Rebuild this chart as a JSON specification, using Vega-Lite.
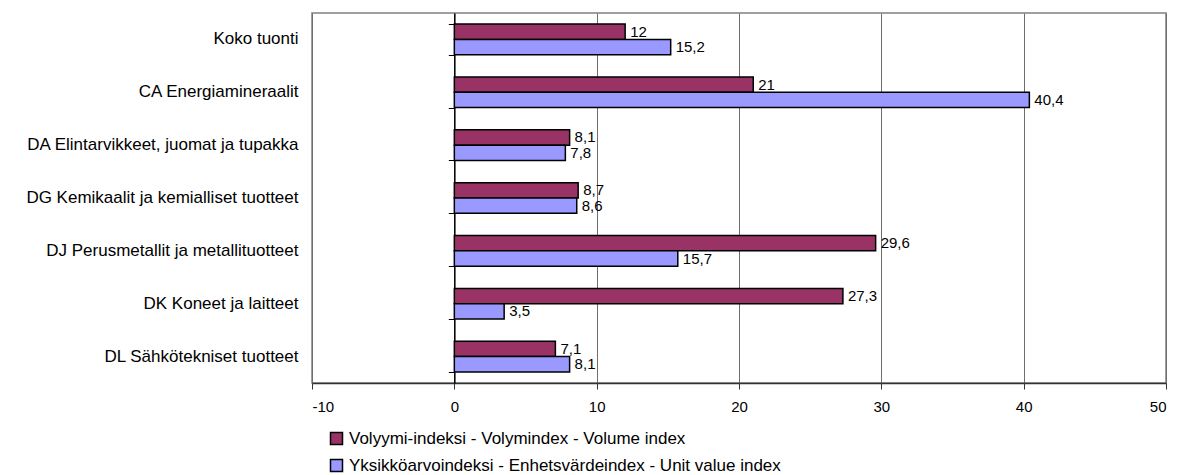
{
  "$schema": "https://vega.github.io/schema/vega-lite/v6.json",
  "width": 854,
  "height": 370,
  "autosize": "none",
  "padding": {"left": 312, "top": 13, "right": 12, "bottom": 92},
  "config": {
    "font": "Liberation Sans",
    "view": {"stroke": "#808080", "strokeWidth": 1.5},
    "locale": {"number": {"decimal": ",", "thousands": " ", "grouping": [3], "currency": ["", " €"], "minus": "-"}}
  },
  "data": {
    "values": [
      {"category": "Koko tuonti", "series": "Volyymi-indeksi - Volymindex - Volume index", "value": 12},
      {"category": "Koko tuonti", "series": "Yksikköarvoindeksi - Enhetsvärdeindex - Unit value index", "value": 15.2},
      {"category": "CA Energiamineraalit", "series": "Volyymi-indeksi - Volymindex - Volume index", "value": 21},
      {"category": "CA Energiamineraalit", "series": "Yksikköarvoindeksi - Enhetsvärdeindex - Unit value index", "value": 40.4},
      {"category": "DA Elintarvikkeet, juomat ja tupakka", "series": "Volyymi-indeksi - Volymindex - Volume index", "value": 8.1},
      {"category": "DA Elintarvikkeet, juomat ja tupakka", "series": "Yksikköarvoindeksi - Enhetsvärdeindex - Unit value index", "value": 7.8},
      {"category": "DG Kemikaalit ja kemialliset tuotteet", "series": "Volyymi-indeksi - Volymindex - Volume index", "value": 8.7},
      {"category": "DG Kemikaalit ja kemialliset tuotteet", "series": "Yksikköarvoindeksi - Enhetsvärdeindex - Unit value index", "value": 8.6},
      {"category": "DJ Perusmetallit ja metallituotteet", "series": "Volyymi-indeksi - Volymindex - Volume index", "value": 29.6},
      {"category": "DJ Perusmetallit ja metallituotteet", "series": "Yksikköarvoindeksi - Enhetsvärdeindex - Unit value index", "value": 15.7},
      {"category": "DK Koneet ja laitteet", "series": "Volyymi-indeksi - Volymindex - Volume index", "value": 27.3},
      {"category": "DK Koneet ja laitteet", "series": "Yksikköarvoindeksi - Enhetsvärdeindex - Unit value index", "value": 3.5},
      {"category": "DL Sähkötekniset tuotteet", "series": "Volyymi-indeksi - Volymindex - Volume index", "value": 7.1},
      {"category": "DL Sähkötekniset tuotteet", "series": "Yksikköarvoindeksi - Enhetsvärdeindex - Unit value index", "value": 8.1}
    ]
  },
  "layer": [
    {
      "mark": {"type": "bar", "stroke": "black", "strokeWidth": 1.5},
      "encoding": {
        "y": {
          "field": "category", "type": "nominal", "sort": null,
          "scale": {"paddingInner": 0.42, "paddingOuter": 0.21},
          "axis": {"orient": "left", "title": null, "domain": false, "ticks": false, "labelPadding": 14, "labelFontSize": 17, "labelColor": "black", "labelLimit": 400}
        },
        "yOffset": {"field": "series", "type": "nominal", "sort": null, "scale": {"paddingInner": 0}},
        "x": {
          "field": "value", "type": "quantitative",
          "scale": {"domain": [-10, 50], "nice": false},
          "axis": {"title": null, "values": [-10, 0, 10, 20, 30, 40, 50], "grid": true, "gridColor": "#6e6e6e", "gridWidth": 1, "domain": true, "domainColor": "#333333", "domainWidth": 1.5, "tickColor": "#333333", "tickSize": 6, "labelFontSize": 15, "labelPadding": 10, "labelColor": "black", "format": "d"}
        },
        "color": {
          "field": "series", "type": "nominal",
          "scale": {"domain": ["Volyymi-indeksi - Volymindex - Volume index", "Yksikköarvoindeksi - Enhetsvärdeindex - Unit value index"], "range": ["#993366", "#9999FF"]},
          "legend": {"orient": "none", "legendX": 16, "legendY": 417, "direction": "vertical", "title": null, "symbolType": "square", "symbolSize": 144, "symbolStrokeColor": "black", "symbolStrokeWidth": 1.5, "symbolOpacity": 1, "labelFontSize": 17, "labelColor": "black", "rowPadding": 8, "labelOffset": 4, "labelLimit": 600}
        }
      }
    },
    {
      "mark": {"type": "text", "align": "left", "baseline": "middle", "dx": 5, "fontSize": 15, "color": "black"},
      "encoding": {
        "y": {"field": "category", "type": "nominal", "sort": null, "axis": null},
        "yOffset": {"field": "series", "type": "nominal", "sort": null},
        "x": {"field": "value", "type": "quantitative"},
        "text": {"field": "value", "type": "quantitative", "format": "~g"}
      }
    },
    {
      "mark": {"type": "point", "opacity": 0},
      "encoding": {
        "y": {
          "field": "category", "type": "nominal", "sort": null,
          "axis": {"orient": "right", "offset": -711.67, "title": null, "labels": false, "grid": false, "domain": true, "domainColor": "black", "domainWidth": 1.5, "ticks": true, "tickColor": "black", "tickBand": "extent", "tickSize": -6}
        }
      }
    }
  ],
  "resolve": {"axis": {"y": "independent"}}
}
